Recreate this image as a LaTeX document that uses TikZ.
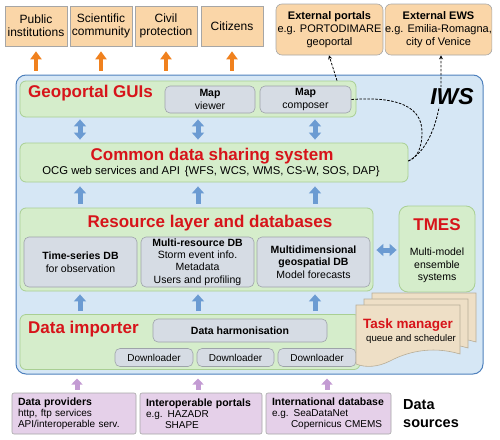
\documentclass[tikz,border=0pt]{standalone}
\usepackage{fontspec}
\setmainfont{Liberation Sans}
\usetikzlibrary{arrows.meta}
\definecolor{orfill}{HTML}{FAD6A8}
\definecolor{orline}{HTML}{A6A6A6}
\definecolor{orarrow}{HTML}{F0811E}
\definecolor{iwsfill}{HTML}{D6E7F5}
\definecolor{iwsline}{HTML}{4F81BD}
\definecolor{grfill}{HTML}{D5EDCB}
\definecolor{grline}{HTML}{A9CF93}
\definecolor{gyfill}{HTML}{D6DCE4}
\definecolor{gyline}{HTML}{9EA3AA}
\definecolor{blarrow}{HTML}{6B9BD2}
\definecolor{ttlred}{HTML}{D7141A}
\definecolor{pufill}{HTML}{E5D0E9}
\definecolor{puarrow}{HTML}{C39BD3}
\definecolor{tmfill}{HTML}{EEDFC6}
\definecolor{tmline}{HTML}{B8AE98}
\newcommand\fsz[2]{\fontsize{#1}{#2}\selectfont}
\begin{document}
\begin{tikzpicture}[x=1pt,y=-1pt,
  obox/.style={draw=orline, fill=orfill, line width=0.6pt, inner sep=0pt, align=center, font=\fsz{12}{13}, minimum width=62pt, minimum height=40pt},
  ebox/.style={obox, rounded corners=6pt, font=\fsz{11}{13}, minimum height=51pt},
  iwsbox/.style={draw=iwsline, fill=iwsfill, line width=1pt, rounded corners=10pt, inner sep=0pt},
  grbox/.style={draw=grline, fill=grfill, line width=0.8pt, rounded corners=6pt, inner sep=0pt},
  gybox/.style={draw=gyline, fill=gyfill, line width=0.6pt, rounded corners=5pt, inner sep=0pt, align=center, font=\fsz{10.5}{12.5}},
  pubox/.style={draw=orline, fill=pufill, line width=0.6pt, rounded corners=2pt, inner sep=0pt, align=left, minimum height=41pt, font=\fsz{10}{11}},
  rtitle/.style={text=ttlred, font=\fsz{17}{19}\bfseries, inner sep=0pt},
  plain/.style={inner sep=0pt, align=center},
  oarrow/.style={draw=orarrow, line width=4.5pt, -{Triangle[length=8pt,width=11pt]}},
  barrow/.style={draw=blarrow, line width=5pt, -{Triangle[length=7pt,width=12pt]}},
  barrowtwo/.style={draw=blarrow, line width=5pt, {Triangle[length=7pt,width=12pt]}-{Triangle[length=7pt,width=12pt]}},
  parrow/.style={draw=puarrow, line width=5pt, -{Triangle[length=6pt,width=11pt]}},
  dconn/.style={draw=black, line width=0.8pt, dashed, dash pattern=on 2.5pt off 1.5pt},
  tmsheet/.style={draw=tmline, fill=tmfill, line width=0.6pt}
]
\useasboundingbox (0,0) rectangle (500,439);

% top users
\node[obox] (pub) at (36,26) {Public\\institutions};
\node[obox] (sci) at (101,26) {Scientific\\community};
\node[obox] (civ) at (166,26) {Civil\\protection};
\node[obox] (cit) at (232,26) {Citizens};
\node[ebox, minimum width=107pt] (extp) at (329.5,29.5) {\textbf{External portals}\\e.g. PORTODIMARE\\geoportal};
\node[ebox, minimum width=103pt] (ews) at (438.5,29.5) {\textbf{External EWS}\\e.g. Emilia-Romagna,\\city of Venice};

% IWS container
\node[iwsbox, minimum width=467pt, minimum height=299pt] (iws) at (249.5,224.5) {};

% Geoportal
\node[grbox, minimum width=336pt, minimum height=36pt] (geo) at (188,99) {};
\node[rtitle, anchor=west] (geot) at (28,93) {Geoportal GUIs};
\node[gybox, minimum width=90pt, minimum height=27pt] (mv) at (210,99.5) {\textbf{Map}\\viewer};
\node[gybox, minimum width=91pt, minimum height=27pt] (mc) at (305.5,99.5) {\textbf{Map}\\composer};

% CDSS
\node[grbox, minimum width=388pt, minimum height=39pt] (cdss) at (214,162.5) {};
\node[rtitle] (cdsst) at (212,156) {Common data sharing system};
\node[plain, font=\fsz{11.3}{13}] (cdsss) at (211,172) {OCG web services and API\,\ \{WFS, WCS, WMS, CS-W, SOS, DAP\}};

% Resource layer
\node[grbox, minimum width=353pt, minimum height=83pt] (res) at (196.5,249.5) {};
\node[rtitle] (rest) at (210,223) {Resource layer and databases};
\node[gybox, minimum width=113pt, minimum height=50pt] (ts) at (80.5,262) {\textbf{Time-series DB}\\for observation};
\node[gybox, minimum width=113pt, minimum height=50pt, font=\fsz{10.5}{12.3}] (mr) at (197.5,262) {\textbf{Multi-resource DB}\\Storm event info.\\Metadata\\Users and profiling};
\node[gybox, minimum width=113pt, minimum height=50pt] (md) at (313.5,262) {\textbf{Multidimensional}\\\textbf{geospatial DB}\\Model forecasts};

% TMES
\node[grbox, minimum width=76pt, minimum height=86pt, rounded corners=9pt] (tmes) at (437,249) {};
\node[rtitle] (tmest) at (437,225) {TMES};
\node[plain, font=\fsz{10.5}{12.5}] (tmess) at (437,265.5) {Multi-model\\ensemble\\systems};

% Data importer
\node[grbox, minimum width=340pt, minimum height=55pt] (imp) at (190,342) {};
\node[rtitle, anchor=west] (impt) at (28,329) {Data importer};
\node[gybox, minimum width=174pt, minimum height=23pt] (dh) at (240,330.5) {\textbf{Data harmonisation}};
\node[gybox, minimum width=78pt, minimum height=18pt, font=\fsz{10}{12}] (dl1) at (154,357.5) {Downloader};
\node[gybox, minimum width=77pt, minimum height=18pt, font=\fsz{10}{12}] (dl2) at (235.5,357.5) {Downloader};
\node[gybox, minimum width=78pt, minimum height=18pt, font=\fsz{10}{12}] (dl3) at (317,357.5) {Downloader};

% Task manager sheets
\foreach \dx/\dy in {16/-12, 8/-6, 0/0}{
  \path[tmsheet] (356+\dx,305+\dy) -- (460+\dx,305+\dy) -- (460+\dx,354+\dy)
    .. controls (430+\dx,345+\dy) and (405+\dx,353+\dy) .. (390+\dx,361+\dy)
    .. controls (378+\dx,367+\dy) and (366+\dx,368+\dy) .. (356+\dx,364+\dy) -- cycle;
}
\node[plain, text=ttlred, font=\fsz{13.5}{15}\bfseries] (tmt) at (408,325) {Task manager};
\node[plain, font=\fsz{9.6}{11}] (tms) at (411,339) {queue and scheduler};

% data sources
\node[pubox, minimum width=124pt, text width=112pt] (dp) at (74,413.5) {\textbf{\fsz{10.5}{11}Data providers}\\http, ftp services\\API/interoperable serv.};
\node[pubox, minimum width=122pt, text width=110pt] (ip) at (201,413.5) {\textbf{\fsz{10.5}{11}Interoperable portals}\\e.g. HAZADR\\\hspace*{19pt}SHAPE};
\node[pubox, minimum width=125pt, text width=113pt] (id) at (328.5,413.5) {\textbf{\fsz{10.5}{11}International database}\\e.g. SeaDataNet\\\hspace*{19pt}Copernicus CMEMS};
\node[plain, anchor=west, align=left, font=\fsz{14.5}{18}\bfseries] (dsrc) at (403,414) {Data\\sources};

% orange arrows
\foreach \n/\x in {pub/36, sci/101, civ/166, cit/232}{
  \draw[oarrow] ([yshift=4pt]iws.north -| \x,0) -- ([yshift=-5pt]\n.south -| \x,0);
}

% blue arrows
\foreach \x in {80,198,315}{
  \draw[barrowtwo, shorten <=2pt, shorten >=3pt] (geo.south -| \x,0) -- (cdss.north -| \x,0);
  \draw[barrow, shorten <=4pt, shorten >=4pt] (res.north -| \x,0) -- (cdss.south -| \x,0);
  \draw[barrow, shorten <=3pt, shorten >=3pt] (imp.north -| \x,0) -- (res.south -| \x,0);
}
\draw[barrowtwo, shorten <=3pt, shorten >=2pt] (res.east |- 0,250) -- (tmes.west |- 0,250);

% purple arrows
\foreach \n/\x in {dp/77, ip/198, id/327}{
  \draw[parrow, shorten <=3pt, shorten >=4pt] (\n.north -| \x,0) -- (iws.south -| \x,0);
}

% dashed connectors
\draw[dconn, -{Stealth[length=4pt,width=4pt]}] (geo.north -| 337,0) -- (extp.south -| 329,0);
\draw[dconn] (mc.east) .. controls (400,96) and (422,108) .. (422,132)
  .. controls (422,150) and (416,158) .. (cdss.east |- 0,161);
\draw[dconn, -{Stealth[length=4pt,width=4pt]}] (cdss.east |- 0,161) .. controls (430,150) and (440,115) .. (441,90) -- (ews.south -| 441,0);

\node[fill=iwsfill, inner sep=1.5pt, font=\fsz{23}{25}\bfseries\itshape] (iwst) at (452,97) {IWS};
\end{tikzpicture}
\end{document}
